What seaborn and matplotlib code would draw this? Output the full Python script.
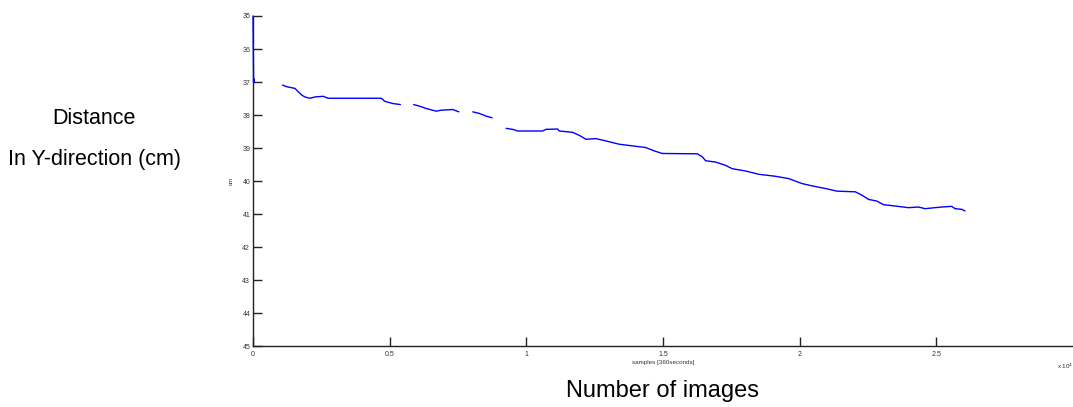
import numpy as np
import pandas as pd
import matplotlib
matplotlib.use("Agg")
import matplotlib.pyplot as plt
import seaborn as sns
from matplotlib.ticker import FuncFormatter, FixedLocator

# ---- data (samples, distance in cm), one list per recorded segment ----
seg0_x = [0, 20, 30, 50]
seg0_y = [35.0, 37.0, 36.9, 37.0]

seg1_x = [1084, 1230, 1533, 1653, 1778, 1898, 2081, 2263, 2566, 2748, 4698, 4818, 5121, 5391]
seg1_y = [37.09, 37.14, 37.19, 37.29, 37.39, 37.45, 37.49, 37.45, 37.43, 37.49, 37.49, 37.58, 37.65, 37.68]

seg2_x = [5877, 6096, 6340, 6705, 6888, 7311, 7530]
seg2_y = [37.68, 37.73, 37.80, 37.88, 37.85, 37.83, 37.90]

seg3_x = [8041, 8286, 8530, 8749]
seg3_y = [37.90, 37.95, 38.03, 38.08]

seg4_x = [9260, 9501, 9683, 10596, 10720, 11143, 11205, 11690, 11935, 12180, 12545,
          12910, 13396, 13881, 14368, 14673, 14976, 16254, 16436, 16560, 16925, 17290,
          17531, 18020, 18506, 19115, 19600, 20086, 20451, 20940, 21363, 22035, 22275,
          22520, 22823, 23068, 23495, 23980, 24345, 24590, 25196, 25561, 25685, 25926, 26050]
seg4_y = [38.40, 38.43, 38.48, 38.48, 38.43, 38.42, 38.48, 38.52, 38.61, 38.73, 38.71,
          38.78, 38.88, 38.93, 38.98, 39.08, 39.16, 39.17, 39.26, 39.38, 39.42, 39.52,
          39.62, 39.69, 39.79, 39.85, 39.92, 40.07, 40.14, 40.22, 40.30, 40.32, 40.42,
          40.55, 40.60, 40.71, 40.75, 40.80, 40.78, 40.83, 40.78, 40.76, 40.83, 40.85, 40.90]

x_ticks = [0, 5000, 10000, 15000, 20000, 25000]
y_ticks = [35, 36, 37, 38, 39, 40, 41, 42, 43, 44, 45]

segments = [(seg0_x, seg0_y), (seg1_x, seg1_y), (seg2_x, seg2_y), (seg3_x, seg3_y), (seg4_x, seg4_y)]
frames = []
for i, (sx, sy) in enumerate(segments):
    frames.append(pd.DataFrame({"sample": sx, "cm": sy, "seg": i}))
df = pd.concat(frames, ignore_index=True)

sns.set_theme(style="white")
plt.rcParams["font.family"] = ["Liberation Sans", "DejaVu Sans"]

fig = plt.figure(figsize=(10.73, 4.07), dpi=100)
ax = fig.add_axes([0.2358, 0.1487, 0.7642, 0.812])

sns.lineplot(data=df, x="sample", y="cm", units="seg", estimator=None, sort=False,
             color="#0000ff", linewidth=1.0, ax=ax, zorder=4)
for ln in ax.lines:
    ln.set_clip_on(False)

ax.set_xlim(0, 30000)
ax.set_ylim(45, 35)
ax.xaxis.set_major_locator(FixedLocator(x_ticks))
ax.yaxis.set_major_locator(FixedLocator(y_ticks))
ax.xaxis.set_major_formatter(FuncFormatter(lambda v, p: f"{v/1e4:g}"))
ax.yaxis.set_major_formatter(FuncFormatter(lambda v, p: f"{v:g}"))

for s in ["top", "right"]:
    ax.spines[s].set_visible(False)
for s in ["left", "bottom"]:
    ax.spines[s].set_color("#222222")
    ax.spines[s].set_linewidth(1.0)

ax.tick_params(axis="both", which="major", bottom=True, left=True, top=False, right=False,
               direction="in", length=6.5, width=1.0, color="#222222",
               labelsize=5, pad=2, labelcolor="#333333")
ax.tick_params(axis="x", pad=3)

ax.set_xlabel("samples [360seconds]", fontsize=4.5, labelpad=2, color="#333333")
ax.set_ylabel("cm", fontsize=4.5, labelpad=6, color="#333333")

fig.text(1065 / 1073, 1 - 366 / 407, "x 10$^{4}$", fontsize=4.5, ha="center", va="center", color="#333333")

fig.text(94 / 1073, 1 - 118 / 407, "Distance", fontsize=15.5, ha="center", va="center", color="black")
fig.text(95 / 1073, 1 - 160 / 407, "In Y-direction (cm)", fontsize=15.5, ha="center", va="center", color="black")
fig.text(663 / 1073, 1 - 391 / 407, "Number of images", fontsize=17, ha="center", va="center", color="black")

fig.savefig("out.png", dpi=100)
